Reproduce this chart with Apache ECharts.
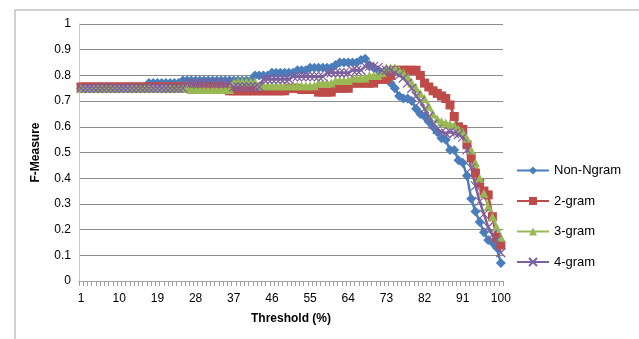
<!DOCTYPE html>
<html>
<head>
<meta charset="utf-8">
<script src="https://cdn.jsdelivr.net/npm/echarts@6/dist/echarts.min.js"></script>
<style>
  html, body { margin: 0; padding: 0; background: #fff; }
  #main { width: 639px; height: 339px; }
</style>
</head>
<body>
<div id="main"></div>
<script>
// threshold 1..100
var thresholds = [];
for (var t = 1; t <= 100; t++) thresholds.push(String(t));

var seriesNames = ['Non-Ngram', '2-gram', '3-gram', '4-gram'];

var nonNgram = [
    0.75, 0.75, 0.75, 0.75, 0.75, 0.75, 0.75, 0.75, 0.75, 0.75,
    0.75, 0.75, 0.75, 0.75, 0.75, 0.75, 0.77, 0.77, 0.77, 0.77,
    0.77, 0.77, 0.77, 0.77, 0.78, 0.78, 0.78, 0.78, 0.78, 0.78,
    0.78, 0.78, 0.78, 0.78, 0.78, 0.78, 0.78, 0.78, 0.78, 0.78,
    0.78, 0.80, 0.80, 0.80, 0.80, 0.81, 0.81, 0.81, 0.81, 0.81,
    0.81, 0.82, 0.82, 0.82, 0.83, 0.83, 0.83, 0.83, 0.83, 0.83,
    0.84, 0.85, 0.85, 0.85, 0.85, 0.85, 0.86, 0.865, 0.84, 0.83,
    0.82, 0.81, 0.80, 0.77, 0.75, 0.72, 0.71, 0.71, 0.70, 0.67,
    0.65, 0.64, 0.62, 0.60, 0.58, 0.555, 0.55, 0.51, 0.51, 0.47,
    0.46, 0.41, 0.32, 0.27, 0.23, 0.19, 0.16, 0.15, 0.13, 0.07
];

var gram2 = [
    0.755, 0.755, 0.755, 0.755, 0.755, 0.755, 0.755, 0.755, 0.755, 0.755,
    0.755, 0.755, 0.755, 0.755, 0.755, 0.755, 0.755, 0.755, 0.755, 0.755,
    0.755, 0.755, 0.755, 0.755, 0.755, 0.755, 0.755, 0.755, 0.755, 0.755,
    0.755, 0.755, 0.755, 0.755, 0.755, 0.74, 0.74, 0.74, 0.74, 0.74,
    0.74, 0.74, 0.74, 0.74, 0.74, 0.74, 0.74, 0.74, 0.74, 0.75,
    0.75, 0.75, 0.745, 0.745, 0.745, 0.745, 0.735, 0.735, 0.735, 0.735,
    0.75, 0.75, 0.75, 0.75, 0.77, 0.77, 0.77, 0.77, 0.77, 0.77,
    0.785, 0.785, 0.785, 0.80, 0.82, 0.82, 0.82, 0.82, 0.82, 0.82,
    0.80, 0.77, 0.755, 0.74, 0.73, 0.72, 0.71, 0.685, 0.64, 0.60,
    0.59, 0.53, 0.48, 0.42, 0.38, 0.35, 0.335, 0.25, 0.17, 0.14
];

var gram3 = [
    0.75, 0.75, 0.75, 0.75, 0.75, 0.75, 0.75, 0.75, 0.75, 0.75,
    0.75, 0.75, 0.75, 0.75, 0.75, 0.75, 0.75, 0.75, 0.75, 0.75,
    0.75, 0.75, 0.75, 0.75, 0.75, 0.75, 0.745, 0.745, 0.745, 0.745,
    0.745, 0.745, 0.745, 0.745, 0.745, 0.745, 0.775, 0.775, 0.775, 0.775,
    0.775, 0.775, 0.76, 0.76, 0.76, 0.76, 0.76, 0.76, 0.76, 0.76,
    0.76, 0.76, 0.76, 0.76, 0.76, 0.76, 0.77, 0.77, 0.77, 0.77,
    0.78, 0.78, 0.78, 0.78, 0.79, 0.79, 0.79, 0.79, 0.80, 0.80,
    0.80, 0.81, 0.83, 0.83, 0.83, 0.82, 0.81, 0.795, 0.77, 0.75,
    0.73, 0.71, 0.68, 0.65, 0.63, 0.62, 0.615, 0.61, 0.605, 0.59,
    0.58, 0.555, 0.51, 0.46, 0.40, 0.34, 0.29, 0.25, 0.21, 0.17
];

var gram4 = [
    0.75, 0.75, 0.75, 0.75, 0.75, 0.75, 0.75, 0.75, 0.75, 0.75,
    0.75, 0.75, 0.75, 0.75, 0.75, 0.75, 0.75, 0.75, 0.75, 0.75,
    0.75, 0.75, 0.75, 0.75, 0.75, 0.77, 0.77, 0.77, 0.77, 0.77,
    0.77, 0.77, 0.77, 0.77, 0.77, 0.77, 0.755, 0.755, 0.755, 0.755,
    0.755, 0.755, 0.755, 0.785, 0.785, 0.785, 0.785, 0.785, 0.785, 0.785,
    0.795, 0.795, 0.795, 0.795, 0.795, 0.795, 0.795, 0.795, 0.81, 0.81,
    0.81, 0.81, 0.81, 0.81, 0.82, 0.82, 0.82, 0.835, 0.835, 0.835,
    0.83, 0.82, 0.82, 0.82, 0.81, 0.80, 0.79, 0.77, 0.75, 0.72,
    0.70, 0.67, 0.64, 0.61, 0.59, 0.58, 0.575, 0.58, 0.575, 0.57,
    0.56, 0.51, 0.44, 0.37, 0.31, 0.26, 0.21, 0.18, 0.16, 0.11
];

var colors = ['#4A7EBB', '#BE4B48', '#98B954', '#7D60A0'];
var symbols = ['diamond', 'rect', 'triangle', 'path://M0,0L10,10M10,0L0,10'];
var symbolSizes = [10, 9, 9, 9];
var allData = [nonNgram, gram2, gram3, gram4];

var series = [];
for (var i = 0; i < seriesNames.length; i++) {
    series.push({
        name: seriesNames[i],
        type: 'line',
        data: allData[i],
        symbol: symbols[i],
        symbolSize: symbolSizes[i],
        showAllSymbol: true,
        animation: false,
        lineStyle: { width: 2.5, color: colors[i] },
        itemStyle: {
            color: colors[i],
            borderColor: colors[i],
            borderWidth: i == 3 ? 1.2 : 0
        }
    });
}

var myChart = echarts.init(document.getElementById('main'));
var option = {
    backgroundColor: '#fff',
    animation: false,
    color: colors,
    textStyle: { fontFamily: 'Liberation Sans' },
    grid: { left: 79, right: 136, top: 24, bottom: 58 },
    graphic: [{
        type: 'polyline',
        shape: { points: [[15, 339], [15, 10], [639, 10]] },
        style: { stroke: '#a0a0a0', lineWidth: 1, fill: null },
        silent: true
    }],
    legend: {
        orient: 'vertical',
        left: 511,
        top: 159,
        itemWidth: 32,
        itemHeight: 10,
        itemGap: 17.5,
        textStyle: { fontSize: 13, color: '#000', fontFamily: 'Liberation Sans' },
        data: seriesNames
    },
    xAxis: {
        type: 'category',
        data: thresholds,
        boundaryGap: true,
        name: 'Threshold (%)',
        nameLocation: 'middle',
        nameGap: 32,
        nameTextStyle: { fontWeight: 'bold', fontSize: 12, color: '#000' },
        axisLine: { lineStyle: { color: '#a0a0a0', width: 1 } },
        axisTick: { show: true, interval: 0, length: 5, lineStyle: { color: '#a0a0a0' } },
        axisLabel: { interval: 8, margin: 12, fontSize: 12, color: '#000' },
        splitLine: { show: false }
    },
    yAxis: {
        type: 'value',
        min: 0,
        max: 1,
        interval: 0.1,
        name: 'F-Measure',
        nameLocation: 'middle',
        nameGap: 37,
        nameRotate: 90,
        nameTextStyle: { fontWeight: 'bold', fontSize: 12, color: '#000' },
        axisLine: { show: true, lineStyle: { color: '#c8c8c8', width: 1 } },
        axisTick: { show: false },
        axisLabel: { fontSize: 12, color: '#000', margin: 8 },
        splitLine: { show: true, lineStyle: { color: '#8c8c8c', width: 1 } }
    },
    series: series
};

myChart.setOption(option);
window.onresize = myChart.resize;
</script>
</body>
</html>
